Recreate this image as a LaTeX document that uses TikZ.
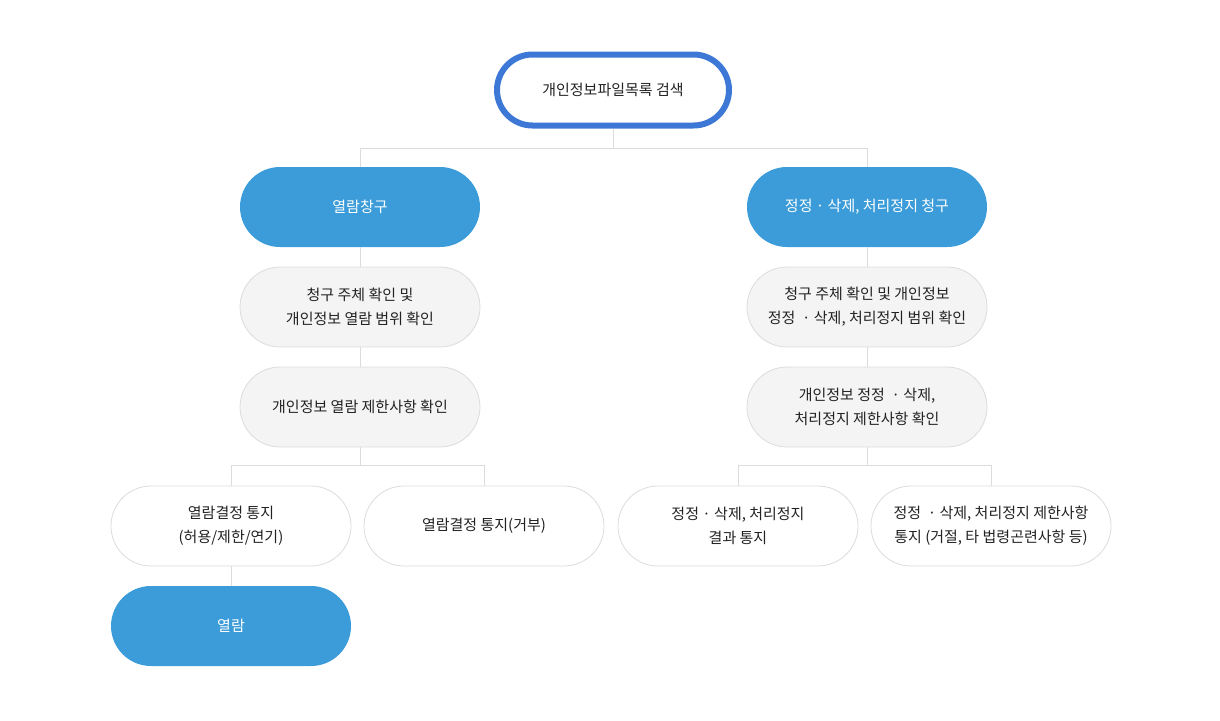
\documentclass[tikz,border=0pt]{standalone}
\usepackage{fontspec}
\setmainfont{Noto Sans CJK KR}
\usetikzlibrary{calc}
\definecolor{boxblue}{HTML}{3B9CD9}
\definecolor{ringblue}{HTML}{3E78D6}
\definecolor{boxgray}{HTML}{F4F4F4}
\definecolor{edgegray}{HTML}{DCDCDC}
\definecolor{inkdark}{HTML}{222222}

\begin{document}
\begin{tikzpicture}[x=1pt,y=-1pt,
  box/.style={rectangle,rounded corners=40pt,minimum width=240pt,minimum height=80pt,
    align=center,inner sep=0pt,text=inkdark,font=\fontsize{15}{24}\selectfont},
  bluebox/.style={box,fill=boxblue,text=white},
  graybox/.style={box,fill=boxgray,draw=edgegray,line width=0.8pt},
  whitebox/.style={box,fill=white,draw=edgegray,line width=0.8pt},
  ringbox/.style={box,fill=white,draw=ringblue,line width=6pt,minimum width=232pt,
    minimum height=71pt,rounded corners=35.5pt},
  link/.style={draw=edgegray,line width=0.8pt}]
\useasboundingbox (0,0) rectangle (1220,720);

\node[ringbox] (search) at (613,90) {개인정보파일목록 검색};

\node[bluebox] (read) at (360,207) {열람창구};
\node[bluebox] (fix) at (867,207) {정정 · 삭제, 처리정지 청구};

\node[graybox] (chkA) at (360,307) {청구 주체 확인 및\\개인정보 열람 범위 확인};
\node[graybox] (limA) at (360,407) {개인정보 열람 제한사항 확인};
\node[graybox] (chkB) at (867,307) {청구 주체 확인 및 개인정보\\정정 \ · 삭제, 처리정지 범위 확인};
\node[graybox] (limB) at (867,407) {개인정보 정정 \ · 삭제,\\처리정지 제한사항 확인};

\node[whitebox] (notA1) at (231,526) {열람결정 통지\\(허용/제한/연기)};
\node[whitebox] (notA2) at (484,526) {열람결정 통지(거부)};
\node[whitebox] (notB1) at (738,526) {정정 · 삭제, 처리정지\\결과 통지};
\node[whitebox] (notB2) at (991,526) {정정 \ · 삭제, 처리정지 제한사항\\통지 (거절, 타 법령곤련사항 등)};

\node[bluebox] (view) at (231,626) {열람};

% connectors
\coordinate (splitTop) at (613,148);
\coordinate (splitA) at (360,465);
\coordinate (splitB) at (867,465);

\draw[link] (search.south) -- (splitTop) -| (read.north);
\draw[link] (splitTop) -| (fix.north);
\draw[link] (read.south) -- (chkA.north);
\draw[link] (chkA.south) -- (limA.north);
\draw[link] (fix.south) -- (chkB.north);
\draw[link] (chkB.south) -- (limB.north);
\draw[link] (limA.south) -- (splitA) -| (notA1.north);
\draw[link] (splitA) -| (notA2.north);
\draw[link] (limB.south) -- (splitB) -| (notB1.north);
\draw[link] (splitB) -| (notB2.north);
\draw[link] (notA1.south) -- (view.north);

\end{tikzpicture}
\end{document}
